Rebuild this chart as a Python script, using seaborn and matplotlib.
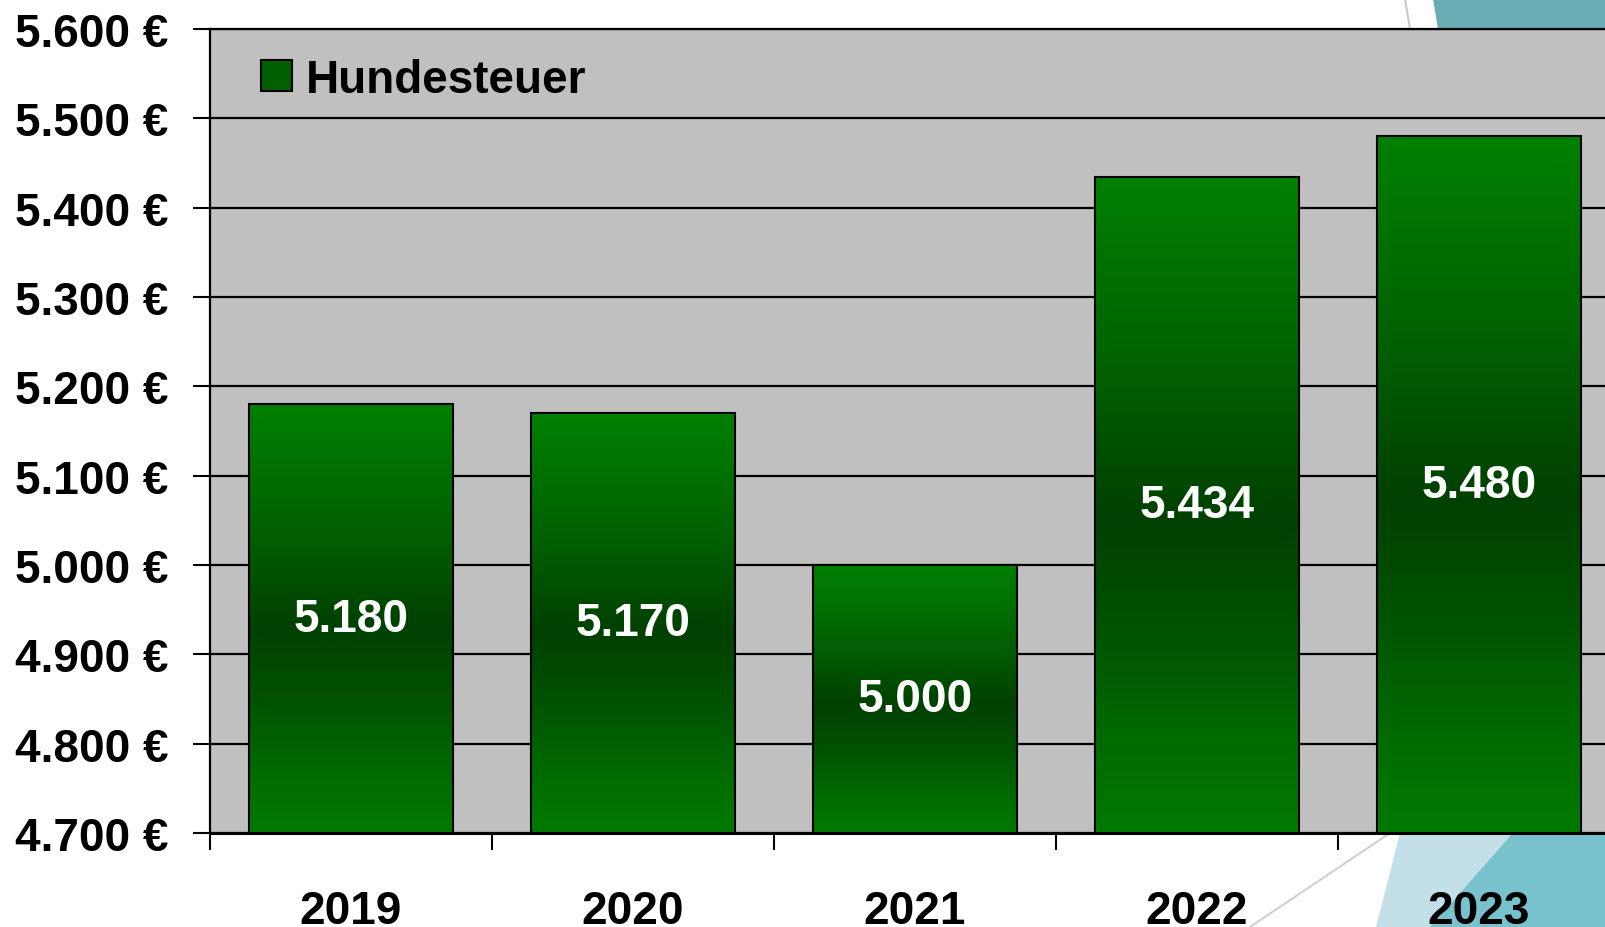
import numpy as np
import pandas as pd
import matplotlib
matplotlib.use("Agg")
import matplotlib.pyplot as plt
import seaborn as sns
from matplotlib.colors import LinearSegmentedColormap
from matplotlib.patches import Polygon, Rectangle
from matplotlib.lines import Line2D
from matplotlib.ticker import FuncFormatter, FixedLocator

# data
years = ["2019", "2020", "2021", "2022", "2023"]
values = [5180, 5170, 5000, 5434, 5480]
series_name = "Hundesteuer"
y_ticks = [4700, 4800, 4900, 5000, 5100, 5200, 5300, 5400, 5500, 5600]

df = pd.DataFrame({"year": years, "value": values})

sns.set_style("white")
plt.rcParams["font.family"] = ["Liberation Sans", "DejaVu Sans"]
plt.rcParams["font.weight"] = "bold"
plt.rcParams["text.color"] = "black"
plt.rcParams["xtick.color"] = "black"
plt.rcParams["ytick.color"] = "black"
plt.rcParams["xtick.labelcolor"] = "black"
plt.rcParams["ytick.labelcolor"] = "black"

fig = plt.figure(figsize=(16.06, 9.28), dpi=100)
fig.patch.set_facecolor("white")

# decorative background shapes of the slide
deco = [
    ([(1433, 0), (1606, 0), (1606, 30), (1438, 30)], "#6aabb4"),
    ([(1400, 834), (1606, 834), (1606, 928), (1376, 928)], "#c3e0e9"),
    ([(1513, 834), (1606, 834), (1606, 928), (1430, 928)], "#77c2cd"),
]
for pts, col in deco:
    fig.patches.append(Polygon([(x / 1606, 1 - y / 928) for x, y in pts],
                               closed=True, transform=fig.transFigure,
                               facecolor=col, edgecolor="none", zorder=-2))
fig.lines.append(Line2D([1405 / 1606, 1410 / 1606], [1, 1 - 30 / 928],
                        transform=fig.transFigure, color="#c8c8c8", lw=1.5, zorder=-1))
fig.lines.append(Line2D([1390 / 1606, 1250 / 1606], [1 - 834 / 928, 0],
                        transform=fig.transFigure, color="#d0d0d0", lw=1.5, zorder=-1))

ax = fig.add_axes([210 / 1606, 94 / 928, 1410 / 1606, 804 / 928])
ax.set_facecolor("#c0c0c0")

sns.barplot(data=df, x="year", y="value", color="#006000", width=0.72,
            edgecolor="black", linewidth=1.5, ax=ax, zorder=3)

ax.set_ylim(4700, 5600)
ax.set_xlim(-0.5, 4.5)
ax.yaxis.set_major_locator(FixedLocator(y_ticks))
ax.yaxis.set_major_formatter(FuncFormatter(lambda v, p: f"{v:,.0f}".replace(",", ".") + " €"))
ax.grid(axis="y", color="black", lw=1.6, zorder=1)
ax.set_axisbelow(True)
ax.set_xlabel("")
ax.set_ylabel("")

for s in ["right", "bottom"]:
    ax.spines[s].set_visible(False)
for s in ["left", "top"]:
    ax.spines[s].set_color("black")
    ax.spines[s].set_linewidth(1.6)
ax.axhline(4700, color="black", lw=2.2, zorder=4, clip_on=False)

ax.tick_params(axis="y", left=True, direction="out", length=12, width=1.5, color="black",
               pad=18, labelsize=33, labelcolor="black")
ax.tick_params(axis="x", which="major", bottom=True, length=0, pad=40, labelsize=33,
               labelcolor="black")
ax.set_xticks(np.arange(-0.5, 5.0, 1.0), minor=True)
ax.tick_params(axis="x", which="minor", bottom=True, direction="out", length=12,
               width=1.5, color="black")
for lab in ax.get_xticklabels() + ax.get_yticklabels():
    lab.set_fontweight("bold")

# gradient fill inside the bars
grad = LinearSegmentedColormap.from_list(
    "g", [(0, "#007a00"), (0.15, "#006a00"), (0.3, "#005400"), (0.48, "#004000"),
          (0.7, "#006000"), (1, "#008000")])
gimg = np.linspace(0, 1, 256).reshape(-1, 1)
for bar, v in zip(ax.patches, values):
    x0 = bar.get_x()
    w = bar.get_width()
    im = ax.imshow(gimg, cmap=grad, aspect="auto", origin="lower",
                   extent=[x0, x0 + w, 4700, v], zorder=3.5)
    im.set_clip_path(bar)
    bar.set_facecolor("none")
    bar.set_zorder(4)
    ax.text(x0 + w / 2, (4700 + v) / 2, f"{v:,.0f}".replace(",", "."),
            ha="center", va="center", color="white", fontsize=33,
            fontweight="bold", zorder=5)
ax.set_xlim(-0.5, 4.5)
ax.set_ylim(4700, 5600)

# legend
handle = Rectangle((0, 0), 1, 1, facecolor="#006000", edgecolor="black", lw=1.5)
leg = ax.legend([handle], [series_name], loc="center left", bbox_to_anchor=(0.036, 0.937),
                frameon=False, handlelength=0.68, handleheight=0.68, borderaxespad=0,
                borderpad=0, handletextpad=0.3, prop={"weight": "bold", "size": 33})
leg.set_zorder(6)

fig.savefig("out.png", dpi=100)
